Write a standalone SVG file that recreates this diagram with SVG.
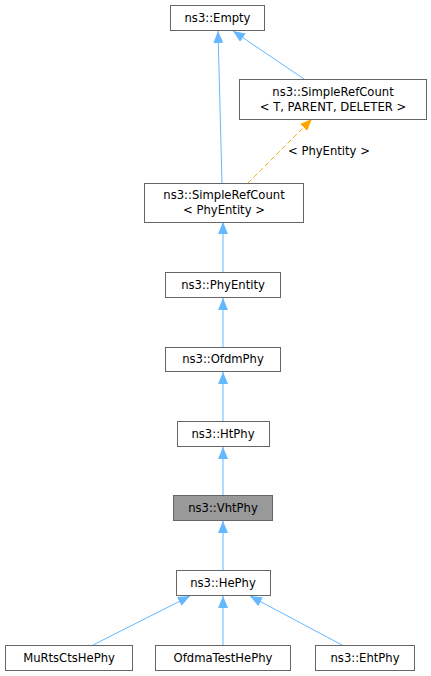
<svg xmlns="http://www.w3.org/2000/svg" width="431" height="676" viewBox="0 0 431 676">
<style>
.n rect{fill:#fff;stroke:#666;stroke-width:1}
.n text{font-family:"DejaVu Sans",sans-serif;font-size:11.6px;fill:#000;text-anchor:middle}
.e{fill:none;stroke:#63b8ff;stroke-width:1}
.d{fill:none;stroke:#ffa500;stroke-width:1;stroke-dasharray:5,3}
.lbl{font-family:"DejaVu Sans",sans-serif;font-size:11.6px;fill:#000}
</style>
<defs>
<marker id="ab" viewBox="0 0 12 10" refX="12" refY="5" markerWidth="12" markerHeight="10" markerUnits="userSpaceOnUse" orient="auto"><path d="M0,0 L12,5 L0,10 z" fill="#63b8ff"/></marker>
<marker id="ao" viewBox="0 0 12 10" refX="12" refY="5" markerWidth="12" markerHeight="10" markerUnits="userSpaceOnUse" orient="auto"><path d="M0,0 L12,5 L0,10 z" fill="#ffa500"/></marker>
</defs>
<rect width="431" height="676" fill="#fff"/>
<g id="edges">
<path class="e" d="M222,183 L218,31" marker-end="url(#ab)"/>
<path class="e" d="M304,79 L233,31" marker-end="url(#ab)"/>
<path class="d" d="M248,183 L312,119" marker-end="url(#ao)"/>
<path class="e" d="M223,272 L223,222" marker-end="url(#ab)"/>
<path class="e" d="M223,347 L223,298" marker-end="url(#ab)"/>
<path class="e" d="M223,421 L223,372" marker-end="url(#ab)"/>
<path class="e" d="M223,495 L223,447" marker-end="url(#ab)"/>
<path class="e" d="M223,570 L223,521" marker-end="url(#ab)"/>
<path class="e" d="M93,645 L190,596" marker-end="url(#ab)"/>
<path class="e" d="M223,645 L223,596" marker-end="url(#ab)"/>
<path class="e" d="M342,645 L250,596" marker-end="url(#ab)"/>
<text class="lbl" x="288" y="155">&lt; PhyEntity &gt;</text>
</g>
<g id="n_empty" class="n"><rect x="170.5" y="5.5" width="94" height="25"/><text x="217.5" y="22">ns3::Empty</text></g>
<g id="n_srct" class="n"><rect x="239.5" y="79.5" width="187" height="40"/><text x="333" y="96">ns3::SimpleRefCount</text><text x="333" y="111">&lt; T, PARENT, DELETER &gt;</text></g>
<g id="n_srcp" class="n"><rect x="144.5" y="183.5" width="159" height="39"/><text x="224" y="199">ns3::SimpleRefCount</text><text x="224" y="214">&lt; PhyEntity &gt;</text></g>
<g id="n_phyentity" class="n"><rect x="165.5" y="272.5" width="115" height="25"/><text x="223" y="289">ns3::PhyEntity</text></g>
<g id="n_ofdmphy" class="n"><rect x="165.5" y="347.5" width="115" height="24"/><text x="223" y="363">ns3::OfdmPhy</text></g>
<g id="n_htphy" class="n"><rect x="177.5" y="421.5" width="92" height="25"/><text x="223" y="438">ns3::HtPhy</text></g>
<g id="n_vhtphy" class="n"><rect x="173.5" y="495.5" width="99" height="25" style="fill:#999"/><text x="223" y="512">ns3::VhtPhy</text></g>
<g id="n_hephy" class="n"><rect x="176.5" y="570.5" width="94" height="25"/><text x="223" y="587">ns3::HePhy</text></g>
<g id="n_murts" class="n"><rect x="5.5" y="645.5" width="127" height="25"/><text x="69" y="662">MuRtsCtsHePhy</text></g>
<g id="n_ofdmatest" class="n"><rect x="155.5" y="645.5" width="135" height="25"/><text x="223" y="662">OfdmaTestHePhy</text></g>
<g id="n_ehtphy" class="n"><rect x="315.5" y="645.5" width="99" height="25"/><text x="365" y="662">ns3::EhtPhy</text></g>
</svg>
